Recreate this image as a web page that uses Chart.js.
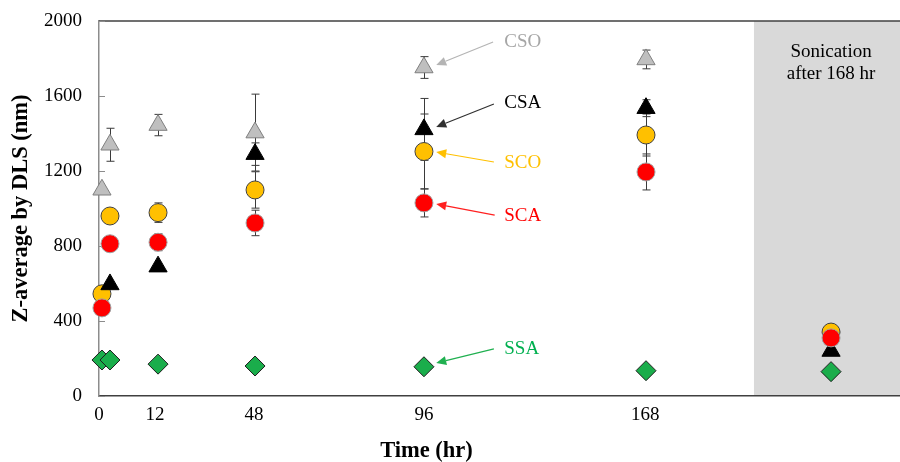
<!DOCTYPE html>
<html>
<head>
<meta charset="utf-8">
<script src="https://cdn.jsdelivr.net/npm/chart.js@4.4.1/dist/chart.umd.min.js"></script>
<style>
html,body{margin:0;padding:0;background:#ffffff;}
#wrap{width:900px;height:462px;}
</style>
</head>
<body>
<div id="wrap"><canvas id="c" width="900" height="462"></canvas></div>
<script>
// ---- data ----
// sampling points along the (non-uniform) time axis, in axis position units
const xPositions    = [0.37, 1.37, 7.37, 19.48, 40.57, 68.29, 91.39];
const tickPositions = [0, 7.0, 19.35, 40.57, 68.2];
const tickLabels    = ['0', '12', '48', '96', '168'];
const yTicks        = [0, 400, 800, 1200, 1600, 2000];

const CSO     = [1100, 1340, 1445, 1405, 1752, 1795, null];
const CSO_err = [0,    88,   57,   205,  58,   50,   0];
const CSA     = [null, 595,  690,  1290, 1422, 1535, 240];
const CSA_err = [0,    0,    0,    60,   165,  45,   0];
const SCO     = [545,  960,  978,  1099, 1304, 1392, 341];
const SCO_err = [0,    0,    52,   97,   200,  112,  0];
const SCA     = [470,  812,  820,  923,  1030, 1195, 310];
const SCA_err = [0,    0,    45,   68,   75,   96,   0];
const SSA     = [192,  192,  170,  160,  156,  135,  130];

const sonicationStart = 81.77;
const sonicationLabel = ['Sonication', 'after 168 hr'];

// annotation placement (axis units)
const annotations = [
  {text:'CSO', color:'#a6a6a6', arrow:'#b4b4b4', at:[50.6,1888], from:[49.2,1888], to:[42.1,1765]},
  {text:'CSA', color:'#000000', arrow:'#303030', at:[50.6,1563], from:[49.3,1557], to:[42.1,1435]},
  {text:'SCO', color:'#ffc000', arrow:'#ffc000', at:[50.6,1243], from:[49.3,1248], to:[42.1,1301]},
  {text:'SCA', color:'#ff0000', arrow:'#ff2020', at:[50.6,960],  from:[49.4,965],  to:[42.1,1024]},
  {text:'SSA', color:'#00b050', arrow:'#20b050', at:[50.6,251],  from:[49.3,251],  to:[42.1,176]}
];

const SERIF = '"Liberation Serif", "Times New Roman", Times, serif';

function pts(vals){
  const out = [];
  vals.forEach((v,i)=>{ if(v!==null) out.push({x:xPositions[i], y:v}); });
  return out;
}
function errs(vals, e){
  const out = [];
  vals.forEach((v,i)=>{ if(v!==null) out.push(e ? e[i] : 0); });
  return out;
}

const datasets = [
  {label:'SSA', data:pts(SSA), errorBars:errs(SSA,null), pointStyle:'rectRot', pointRadius:10, pointHoverRadius:10,
   backgroundColor:'#1aad4b', borderColor:'#1e1e1e', borderWidth:1},
  {label:'SCA', data:pts(SCA), errorBars:errs(SCA,SCA_err), pointStyle:'circle', pointRadius:9, pointHoverRadius:9,
   backgroundColor:'#ff0000', borderColor:'#a0a0a0', borderWidth:1},
  {label:'CSA', data:pts(CSA), errorBars:errs(CSA,CSA_err), pointStyle:'triangle', pointRadius:10.5, pointHoverRadius:10.5,
   backgroundColor:'#000000', borderColor:'#000000', borderWidth:1},
  {label:'SCO', data:pts(SCO), errorBars:errs(SCO,SCO_err), pointStyle:'circle', pointRadius:9, pointHoverRadius:9,
   backgroundColor:'#ffc000', borderColor:'#404040', borderWidth:1},
  {label:'CSO', data:pts(CSO), errorBars:errs(CSO,CSO_err), pointStyle:'triangle', pointRadius:10.5, pointHoverRadius:10.5,
   backgroundColor:'#bfbfbf', borderColor:'#7f7f7f', borderWidth:1}
];
datasets.forEach(d=>{ d.showLine=false; d.clip=false; });

function noPad(scale){
  scale.paddingTop = 0; scale.paddingBottom = 0;
  scale.paddingLeft = 0; scale.paddingRight = 0;
}

const decor = {
  id:'decor',
  beforeDraw(chart){
    const {ctx, chartArea:a, scales:{x}} = chart;
    ctx.save();
    ctx.fillStyle = '#d9d9d9';
    const xs = x.getPixelForValue(sonicationStart);
    ctx.fillRect(xs, a.top, a.right - xs, a.bottom - a.top);
    ctx.restore();
  },
  beforeDatasetsDraw(chart){
    const {ctx, chartArea:a, scales:{x,y}} = chart;
    ctx.save();
    // top frame line
    ctx.strokeStyle = '#404040'; ctx.lineWidth = 1.5;
    ctx.beginPath(); ctx.moveTo(a.left, a.top); ctx.lineTo(a.right, a.top); ctx.stroke();
    // inner y tick marks
    ctx.strokeStyle = '#8c8c8c'; ctx.lineWidth = 1;
    yTicks.forEach(v=>{
      const py = Math.round(y.getPixelForValue(v)) + 0.5;
      ctx.beginPath(); ctx.moveTo(a.left, py); ctx.lineTo(a.left + 6, py); ctx.stroke();
    });
    // error bars
    ctx.strokeStyle = '#3a3a3a'; ctx.lineWidth = 1;
    chart.data.datasets.forEach(ds=>{
      ds.data.forEach((p,i)=>{
        const e = ds.errorBars[i];
        if(!e) return;
        const px = Math.round(x.getPixelForValue(p.x)) + 0.5;
        const y1 = y.getPixelForValue(p.y + e), y2 = y.getPixelForValue(p.y - e);
        ctx.beginPath();
        ctx.moveTo(px, y1); ctx.lineTo(px, y2);
        ctx.moveTo(px - 4, y1); ctx.lineTo(px + 4, y1);
        ctx.moveTo(px - 4, y2); ctx.lineTo(px + 4, y2);
        ctx.stroke();
      });
    });
    ctx.restore();
  },
  afterDraw(chart){
    const {ctx, chartArea:a, scales:{x,y}} = chart;
    ctx.save();
    // annotations with arrows
    annotations.forEach(an=>{
      const fx = x.getPixelForValue(an.from[0]), fy = y.getPixelForValue(an.from[1]);
      const tx = x.getPixelForValue(an.to[0]),   ty = y.getPixelForValue(an.to[1]);
      const ang = Math.atan2(ty - fy, tx - fx);
      const L = 10, W = 4.5;
      const bx = tx - Math.cos(ang)*L, by = ty - Math.sin(ang)*L;
      ctx.strokeStyle = an.arrow; ctx.fillStyle = an.arrow; ctx.lineWidth = 1.2;
      ctx.beginPath(); ctx.moveTo(fx, fy); ctx.lineTo(bx, by); ctx.stroke();
      ctx.beginPath();
      ctx.moveTo(tx, ty);
      ctx.lineTo(bx + Math.sin(ang)*W, by - Math.cos(ang)*W);
      ctx.lineTo(bx - Math.sin(ang)*W, by + Math.cos(ang)*W);
      ctx.closePath(); ctx.fill();
      ctx.font = '19px ' + SERIF;
      ctx.fillStyle = an.color; ctx.textAlign = 'left'; ctx.textBaseline = 'middle';
      ctx.fillText(an.text, x.getPixelForValue(an.at[0]), y.getPixelForValue(an.at[1]));
    });
    // sonication label
    ctx.font = '19px ' + SERIF;
    ctx.fillStyle = '#000000'; ctx.textAlign = 'center'; ctx.textBaseline = 'middle';
    const sx = x.getPixelForValue(xPositions[6]);
    ctx.fillText(sonicationLabel[0], sx, a.top + 31);
    ctx.fillText(sonicationLabel[1], sx, a.top + 53);
    // x axis title, centred on the un-shaded part of the axis
    ctx.font = 'bold 22.5px ' + SERIF;
    const cx = (x.getPixelForValue(0) + x.getPixelForValue(sonicationStart)) / 2;
    ctx.fillText('Time (hr)', cx, a.bottom + 55);
    ctx.restore();
  }
};

new Chart(document.getElementById('c'), {
  type:'scatter',
  data:{datasets},
  options:{
    responsive:false,
    animation:false,
    events:[],
    layout:{autoPadding:false, padding:{top:21, right:0, left:0, bottom:0}},
    plugins:{legend:{display:false}, tooltip:{enabled:false}},
    scales:{
      x:{
        type:'linear', min:0, max:100,
        afterBuildTicks(scale){ scale.ticks = tickPositions.map(v=>({value:v})); },
        afterFit(scale){ scale.height = 66; noPad(scale); },
        ticks:{
          autoSkip:false, maxRotation:0, minRotation:0, padding:8,
          color:'#000000', font:{family:SERIF, size:19},
          callback(v){ const i = tickPositions.indexOf(v); return i>=0 ? tickLabels[i] : ''; }
        },
        grid:{display:false, drawTicks:false},
        border:{display:true, color:'#404040', width:1.5}
      },
      y:{
        type:'linear', min:0, max:2000,
        afterBuildTicks(scale){ scale.ticks = yTicks.map(v=>({value:v})); },
        afterFit(scale){ scale.width = 99; noPad(scale); },
        ticks:{color:'#000000', padding:17, font:{family:SERIF, size:19},
               callback(v){ return String(v); }},
        grid:{display:false, drawTicks:false},
        border:{display:true, color:'#8c8c8c', width:1.5},
        title:{display:true, text:'Z-average by DLS (nm)', color:'#000000',
               font:{family:SERIF, size:22.5, weight:'bold'}, padding:{top:8, bottom:0}}
      }
    }
  },
  plugins:[decor]
});
</script>
</body>
</html>
